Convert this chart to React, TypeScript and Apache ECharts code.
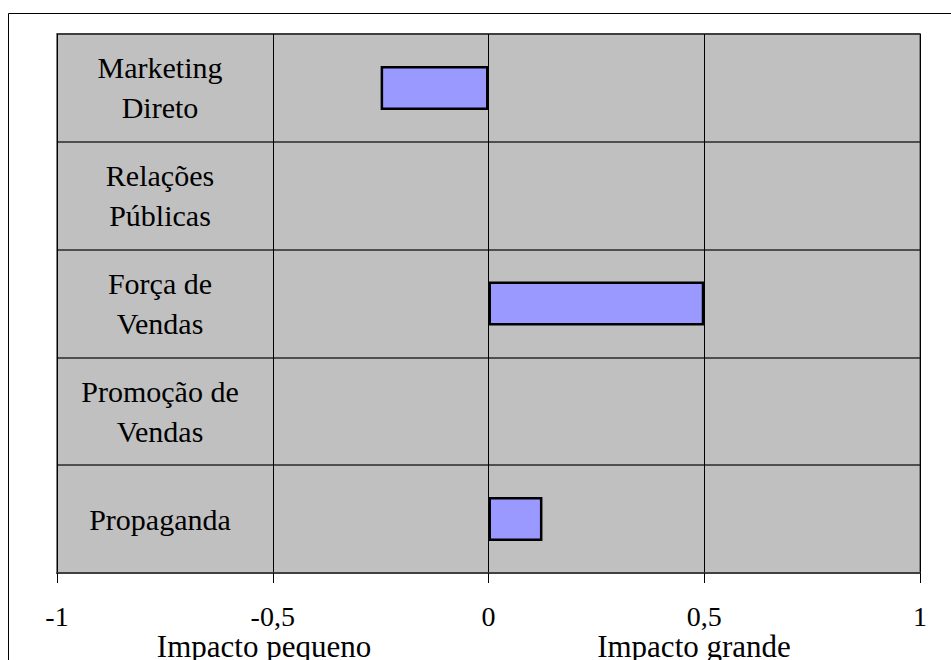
import React, { useEffect, useRef } from "react";
import * as echarts from "echarts";

const categories = [
  "Marketing\nDireto",
  "Relações\nPúblicas",
  "Força de\nVendas",
  "Promoção de\nVendas",
  "Propaganda",
];
const impactValues = [-0.25, 0, 0.5, 0, 0.125];
const xTicks = { min: -1, max: 1, interval: 0.5 };
const bottomLabels = ["Impacto pequeno", "Impacto grande"];

const FONT = "'Liberation Serif', 'Times New Roman', serif";

export default function App() {
  const ref = useRef<HTMLDivElement>(null);
  useEffect(() => {
    if (!ref.current) return;
    const chart = echarts.init(ref.current, null, { renderer: "svg" });
    chart.setOption({
      animation: false,
      backgroundColor: "#ffffff",
      textStyle: { fontFamily: FONT },
      grid: {
        left: 57,
        right: 31,
        top: 34,
        bottom: 87,
        show: true,
        backgroundColor: "#C0C0C0",
        borderColor: "#808080",
        borderWidth: 2,
        containLabel: false,
      },
      xAxis: {
        type: "value",
        min: xTicks.min,
        max: xTicks.max,
        interval: xTicks.interval,
        axisLine: { show: true, onZero: false, lineStyle: { color: "#404040", width: 2 } },
        axisTick: { show: true, length: 10, lineStyle: { color: "#000", width: 1 } },
        splitLine: { show: true, lineStyle: { color: "#000", width: 1 } },
        axisLabel: {
          fontFamily: FONT,
          fontSize: 28,
          color: "#000",
          margin: 29,
          formatter: (v: number) => String(v).replace(".", ","),
        },
      },
      yAxis: {
        type: "category",
        inverse: true,
        data: categories,
        axisLine: { show: false },
        axisTick: { show: false },
        splitLine: { show: true, interval: 0, lineStyle: { color: "#2a2a2a", width: 1.5 } },
        axisLabel: {
          fontFamily: FONT,
          fontSize: 30,
          lineHeight: 40,
          color: "#000",
          align: "center",
          margin: -103,
          interval: 0,
          padding: [0, 0, 8, 0],
        },
      },
      series: [
        {
          type: "bar",
          barWidth: 44,
          data: impactValues.map((v) =>
            v === 0 ? { value: v, itemStyle: { borderWidth: 0 } } : v
          ),
          itemStyle: { color: "#9999FF", borderColor: "#000", borderWidth: 2.5 },
        },
      ],
      graphic: [
        {
          type: "rect",
          silent: true,
          shape: { x: 8.5, y: 13.5, width: 2000, height: 2000 },
          style: { fill: "none", stroke: "#000", lineWidth: 1 },
          z: 100,
        },
        {
          type: "text",
          x: 264,
          y: 646,
          style: {
            text: bottomLabels[0],
            fontFamily: FONT,
            fontSize: 31,
            fill: "#000",
            align: "center",
            verticalAlign: "middle",
          },
        },
        {
          type: "text",
          x: 694,
          y: 646,
          style: {
            text: bottomLabels[1],
            fontFamily: FONT,
            fontSize: 31,
            fill: "#000",
            align: "center",
            verticalAlign: "middle",
          },
        },
      ],
    });
    return () => chart.dispose();
  }, []);
  return (
    <div
      ref={ref}
      style={{ position: "absolute", left: 0, top: 0, width: 951, height: 660 }}
    />
  );
}
